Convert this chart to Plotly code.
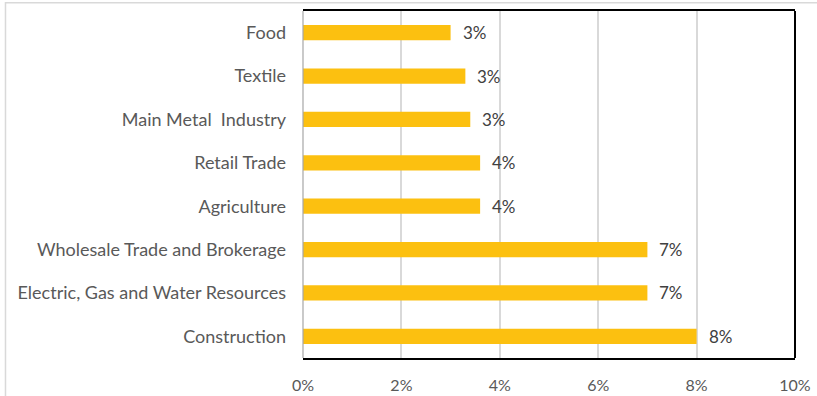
import plotly.graph_objects as go

# Sector shares, listed top to bottom
sectors = [
    "Food",
    "Textile",
    "Main Metal  Industry",
    "Retail Trade",
    "Agriculture",
    "Wholesale Trade and Brokerage",
    "Electric, Gas and Water Resources",
    "Construction",
]
shares = [0.030, 0.033, 0.034, 0.036, 0.036, 0.070, 0.070, 0.080]

x_ticks = [0, 0.02, 0.04, 0.06, 0.08, 0.10]

BAR = "#FCC010"
FONT = "Lato"

fig = go.Figure(
    go.Bar(
        x=shares,
        y=sectors,
        orientation="h",
        marker=dict(color=BAR, line=dict(width=0)),
        width=0.35,
        hoverinfo="skip",
    )
)

# value labels to the right of each bar
for s, v in zip(sectors, shares):
    fig.add_annotation(
        x=v, y=s, xref="x", yref="y",
        text=f"{v:.0%}", showarrow=False,
        xanchor="left", yanchor="middle", xshift=10,
        font=dict(family=FONT, size=17, color="#404040"),
    )

# outer chart frame
fig.add_shape(type="rect", xref="paper", yref="paper",
              x0=-0.6047, x1=1.2, y0=-0.3, y1=1.0236,
              line=dict(color="#D9D9D9", width=1.5), layer="below")
# plot-area frame: grey left edge, black right edge
fig.add_shape(type="line", xref="paper", yref="paper",
              x0=0, x1=0, y0=0, y1=1,
              line=dict(color="#A6A6A6", width=1.2), layer="above")
fig.add_shape(type="line", xref="paper", yref="paper",
              x0=1, x1=1, y0=0, y1=1,
              line=dict(color="#000000", width=2), layer="above")

fig.update_layout(
    width=817, height=396,
    margin=dict(l=303, r=22, t=11, b=38, autoexpand=False),
    paper_bgcolor="white", plot_bgcolor="white",
    showlegend=False,
    font=dict(family=FONT, size=16, color="#595959"),
    xaxis=dict(
        range=[0, 0.10],
        tickvals=x_ticks,
        tickformat=".0%",
        showgrid=True, gridcolor="#D9D9D9", gridwidth=1.5,
        showline=True, linecolor="#000000", linewidth=2, mirror=True,
        zeroline=False, automargin=False,
        ticks="", ticklabelstandoff=12,
        tickfont=dict(family=FONT, size=16, color="#595959"),
    ),
    yaxis=dict(
        autorange="reversed",
        showgrid=False, showline=False, zeroline=False, automargin=False,
        ticks="", ticklabelstandoff=16,
        tickfont=dict(family=FONT, size=18, color="#595959"),
    ),
)

fig.write_html("out.html")
